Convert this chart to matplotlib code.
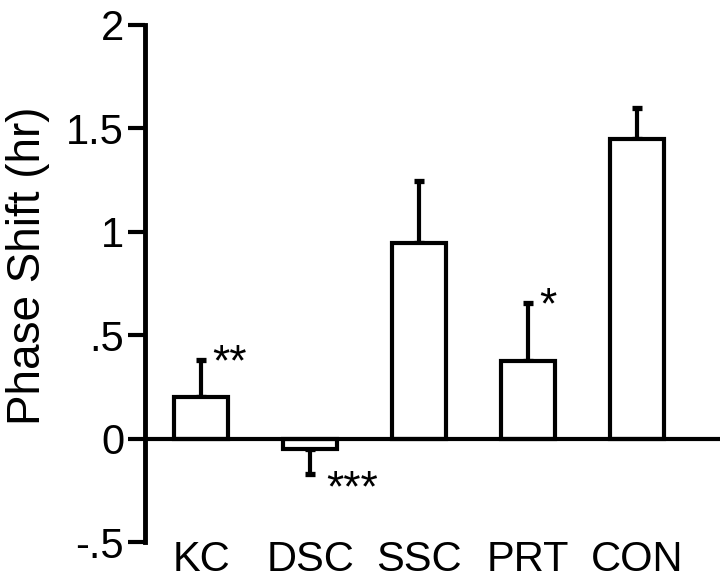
import matplotlib
matplotlib.use('Agg')
import matplotlib.pyplot as plt
import numpy as np

plt.rcParams['font.family'] = ['Liberation Sans', 'DejaVu Sans']

# data
groups = ['KC', 'DSC', 'SSC', 'PRT', 'CON']
shift = [0.20, -0.05, 0.945, 0.375, 1.45]
sem = [0.18, 0.12, 0.30, 0.28, 0.15]
stars = ['**', '***', '', '*', '']
yticks = [-0.5, 0, 0.5, 1, 1.5, 2]
ytick_labels = ['-.5', '0', '.5', '1', '1.5', '2']

fig = plt.figure(figsize=(7.2, 5.8), dpi=100)
ax = fig.add_axes([0.2014, 0.0655, 0.7986, 0.8914])

x = np.arange(len(groups))
# one-sided error bars, away from zero
lower = [s if v < 0 else 0 for v, s in zip(shift, sem)]
upper = [0 if v < 0 else s for v, s in zip(shift, sem)]
ax.errorbar(x, shift, yerr=[lower, upper], fmt='none', ecolor='black',
            elinewidth=3, capsize=3.6, capthick=3.8, zorder=2)
ax.bar(x, shift, width=0.49, color='white', edgecolor='black', linewidth=3, zorder=3)
ax.axhline(0, color='black', linewidth=3, zorder=4)

# significance marks
for i in range(len(groups)):
    if not stars[i]:
        continue
    if shift[i] < 0:
        ax.text(i + 0.15, shift[i] - sem[i] - 0.135, stars[i], ha='left', va='baseline', fontsize=32)
    else:
        ax.text(i + 0.10, shift[i] + sem[i] - 0.075, stars[i], ha='left', va='baseline', fontsize=32)

ax.set_xlim(-0.514, 4.76)
ax.set_ylim(-0.5, 2)
ax.set_yticks(yticks)
ax.set_yticklabels(ytick_labels, fontsize=30)
ax.set_xticks(x)
ax.set_xticklabels(groups, fontsize=30)
ax.tick_params(axis='x', length=0, pad=-1.5)
ax.tick_params(axis='y', length=12, width=3, pad=3)

for s in ['top', 'right', 'bottom']:
    ax.spines[s].set_visible(False)
ax.spines['left'].set_linewidth(3.5)

ax.set_ylabel('Phase Shift (hr)', fontsize=33)
ax.yaxis.set_label_coords(-0.165, 0.535)

fig.savefig('out.png', dpi=100)
